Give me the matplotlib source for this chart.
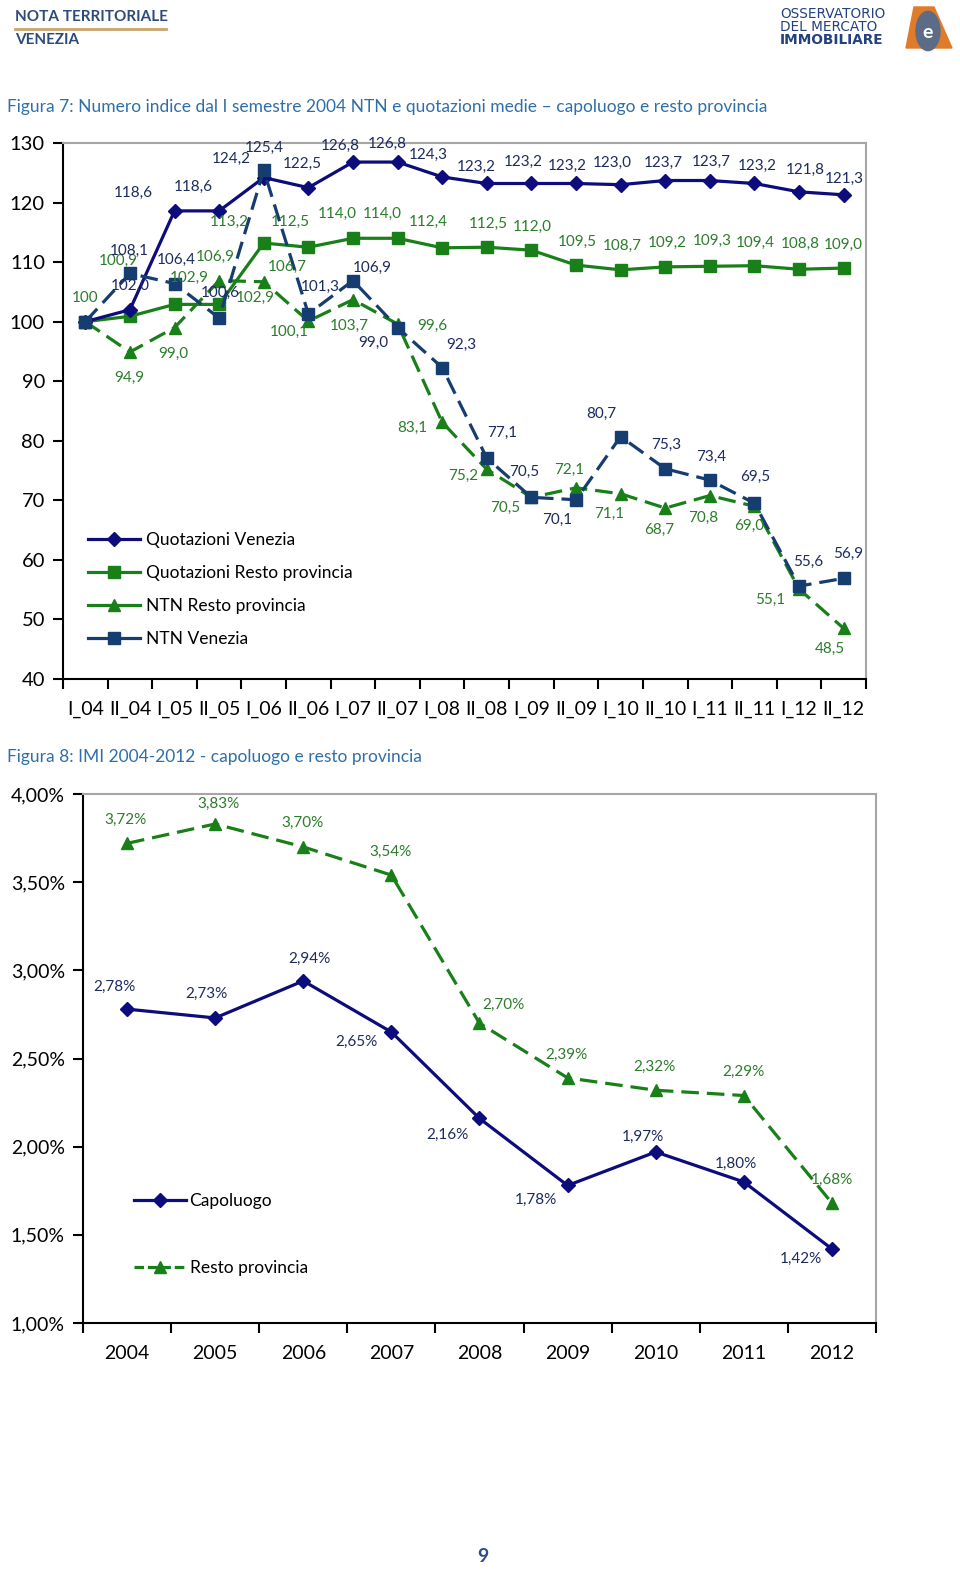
import matplotlib
matplotlib.use("Agg")
import matplotlib.pyplot as plt
from matplotlib.lines import Line2D
from matplotlib.patches import Polygon, Circle
import numpy as np

plt.rcParams['font.family'] = ['Lato', 'DejaVu Sans']

# ---------------- data ----------------
semesters = ["I_04", "II_04", "I_05", "II_05", "I_06", "II_06", "I_07", "II_07", "I_08",
             "II_08", "I_09", "II_09", "I_10", "II_10", "I_11", "II_11", "I_12", "II_12"]
quot_venezia = [100, 102.0, 118.6, 118.6, 124.2, 122.5, 126.8, 126.8, 124.3,
                123.2, 123.2, 123.2, 123.0, 123.7, 123.7, 123.2, 121.8, 121.3]
quot_resto = [100, 100.9, 102.9, 102.9, 113.2, 112.5, 114.0, 114.0, 112.4,
              112.5, 112.0, 109.5, 108.7, 109.2, 109.3, 109.4, 108.8, 109.0]
ntn_resto = [100, 94.9, 99.0, 106.9, 106.7, 100.1, 103.7, 99.6, 83.1,
             75.2, 70.5, 72.1, 71.1, 68.7, 70.8, 69.0, 55.1, 48.5]
ntn_venezia = [100, 108.1, 106.4, 100.6, 125.4, 101.3, 106.9, 99.0, 92.3,
               77.1, 70.5, 70.1, 80.7, 75.3, 73.4, 69.5, 55.6, 56.9]
y1_ticks = [40, 50, 60, 70, 80, 90, 100, 110, 120, 130]

years = ["2004", "2005", "2006", "2007", "2008", "2009", "2010", "2011", "2012"]
imi_capoluogo = [2.78, 2.73, 2.94, 2.65, 2.16, 1.78, 1.97, 1.80, 1.42]
imi_resto = [3.72, 3.83, 3.70, 3.54, 2.70, 2.39, 2.32, 2.29, 1.68]
y2_ticks = [1.00, 1.50, 2.00, 2.50, 3.00, 3.50, 4.00]

# ---------------- styles ----------------
NAVY = "#0C0C7C"
SLATE = "#163D70"
GREEN = "#198019"
NAVY_TXT = "#1D2B5E"
GREEN_TXT = "#2B7D2B"
TITLE_C = "#2F6FA8"
HEAD_C = "#2C4B7B"
GRAY = "#A6A6A6"

W, H = 960, 1569
fig = plt.figure(figsize=(W / 100, H / 100), dpi=100)

def fx(px):
    return px / W

def fy(py):
    return 1 - py / H

# ---------------- header ----------------
fig.text(fx(15), fy(17), "NOTA TERRITORIALE", fontsize=11, fontweight='bold',
         color=HEAD_C, va='center', ha='left')
fig.add_artist(Line2D([fx(15), fx(166)], [fy(29), fy(29)], color="#C9A46A", lw=2))
fig.text(fx(15), fy(40), "VENEZIA", fontsize=11, fontweight='bold',
         color=HEAD_C, va='center', ha='left')

logo_fam = ['Liberation Sans Narrow', 'DejaVu Sans']
for txt, yy, wgt in [("OSSERVATORIO", 14, 'normal'), ("DEL MERCATO", 27, 'normal'),
                     ("IMMOBILIARE", 40, 'bold')]:
    fig.text(fx(780), fy(yy), txt, fontsize=9.8, fontweight=wgt,
             family=logo_fam, color="#23407F", va='center', ha='left')
fig.add_artist(Polygon([[fx(914), fy(7)], [fx(934), fy(7)], [fx(952), fy(48)], [fx(906), fy(48)]],
                       closed=True, transform=fig.transFigure, color="#E07B2A"))
fig.add_artist(Circle((fx(928), fy(31)), 0.0125, transform=fig.transFigure,
                      color="#5C6C86"))
fig.text(fx(928), fy(32), "e", fontsize=14, fontweight='bold', color="white",
         ha='center', va='center')

# ---------------- chart 1 ----------------
fig.text(fx(7), fy(107), "Figura 7: Numero indice dal I semestre 2004 NTN e quotazioni medie \u2013 capoluogo e resto provincia",
         fontsize=12.5, color=TITLE_C, va='center', ha='left')

ax1 = fig.add_axes([fx(63), fy(679), fx(866) - fx(63), fy(143) - fy(679)])
x1 = np.arange(len(semesters))
dash = (5.5, 2.5)
ax1.plot(x1, quot_venezia, color=NAVY, lw=2.3, marker='D', ms=7, zorder=4)
ax1.plot(x1, quot_resto, color=GREEN, lw=2.3, marker='s', ms=8, zorder=3)
ax1.plot(x1, ntn_resto, color=GREEN, lw=2.3, marker='^', ms=9, dashes=dash, zorder=3)
ax1.plot(x1, ntn_venezia, color=SLATE, lw=2.3, marker='s', ms=8, dashes=dash, zorder=5)

ax1.set_xlim(-0.5, len(semesters) - 0.5)
ax1.set_ylim(40, 130)
ax1.set_yticks(y1_ticks)
ax1.set_yticklabels([str(v) for v in y1_ticks])
ax1.set_xticks(x1)
ax1.set_xticklabels(semesters)
ax1.set_xticks(np.arange(-0.5, len(semesters), 1), minor=True)
ax1.tick_params(axis='x', which='major', length=0, labelsize=14, pad=16)
ax1.tick_params(axis='x', which='minor', length=7, width=1.5, direction='out')
ax1.tick_params(axis='y', length=7, width=1.5, direction='out', labelsize=14.5, pad=6)
for s in ['left', 'bottom']:
    ax1.spines[s].set_color('black')
    ax1.spines[s].set_linewidth(1.5)
for s in ['top', 'right']:
    ax1.spines[s].set_color(GRAY)
    ax1.spines[s].set_linewidth(1.5)

def fmt(v, pct=False):
    if pct:
        return ("%.2f" % v).replace('.', ',') + "%"
    if v == 100:
        return "100"
    return ("%.1f" % v).replace('.', ',')

off_qv = [None, (0, -24), (-41, -18), (-26, -24), (-32, -19), (-6, -24), (-13, -16), (-10, -18),
          (-14, -22), (-11, -17), (-8, -22), (-9, -18), (-8, -22), (-2, -18), (1, -19), (3, -18),
          (6, -22), (1, -16)]
off_qr = [(0, -24), (-12, -55), (15, -27), (36, -7), (-34, -21), (-18, -25), (-16, -24), (-15, -24),
          (-14, -26), (1, -23), (1, -23), (1, -23), (2, -24), (2, -24), (2, -25), (1, -23),
          (1, -25), (0, -23)]
off_nr = [None, (-1, 26), (-1, 26), (-4, -24), (24, -15), (-19, 11), (-4, 26), (35, 2),
          (-30, 6), (-24, 7), (-26, 11), (-7, -18), (-11, 20), (-6, 22), (-7, 22), (-5, 20),
          (-29, 11), (-14, 21)]
off_nv = [None, (-1, -23), (2, -24), (1, -25), (1, -23), (12, -27), (19, -13), (-24, 15),
          (19, -23), (15, -25), (-7, -25), (-19, 20), (-19, -23), (1, -24), (1, -23), (1, -26),
          (9, -24), (4, -24)]

def label_series(ax, xs, ys, offs, color, pct=False, fs=11):
    for xi, yi, o in zip(xs, ys, offs):
        if o is None:
            continue
        ax.annotate(fmt(yi, pct), (xi, yi), xytext=(o[0], -o[1]), textcoords='offset pixels',
                    ha='center', va='center', fontsize=fs, color=color, zorder=6,
                    annotation_clip=False)

label_series(ax1, x1, quot_venezia, off_qv, NAVY_TXT)
label_series(ax1, x1, quot_resto, off_qr, GREEN_TXT)
label_series(ax1, x1, ntn_resto, off_nr, GREEN_TXT)
label_series(ax1, x1, ntn_venezia, off_nv, NAVY_TXT)

h1 = [Line2D([], [], color=NAVY, lw=2.3, marker='D', ms=7),
      Line2D([], [], color=GREEN, lw=2.3, marker='s', ms=8),
      Line2D([], [], color=GREEN, lw=2.3, marker='^', ms=9),
      Line2D([], [], color=SLATE, lw=2.3, marker='s', ms=8)]
l1 = ["Quotazioni Venezia", "Quotazioni Resto provincia", "NTN Resto provincia", "NTN Venezia"]
fig.legend(h1, l1, loc='upper left',
           bbox_to_anchor=(fx(88), fy(532)), bbox_transform=fig.transFigure,
           frameon=False, fontsize=12.5, handlelength=3.0, handletextpad=0.35,
           labelspacing=0.98, borderpad=0, borderaxespad=0)

# ---------------- chart 2 ----------------
fig.text(fx(7), fy(757), "Figura 8: IMI 2004-2012 - capoluogo e resto provincia",
         fontsize=12.5, color=TITLE_C, va='center', ha='left')

ax2 = fig.add_axes([fx(83), fy(1323), fx(876) - fx(83), fy(794) - fy(1323)])
x2 = np.arange(len(years))
ax2.plot(x2, imi_capoluogo, color=NAVY, lw=2.3, marker='D', ms=7, zorder=4)
ax2.plot(x2, imi_resto, color=GREEN, lw=2.3, marker='^', ms=9, dashes=dash, zorder=3)
ax2.set_xlim(-0.5, len(years) - 0.5)
ax2.set_ylim(1.0, 4.0)
ax2.set_yticks(y2_ticks)
ax2.set_yticklabels([fmt(v, True) for v in y2_ticks])
ax2.set_xticks(x2)
ax2.set_xticklabels(years)
ax2.set_xticks(np.arange(-0.5, len(years), 1), minor=True)
ax2.tick_params(axis='x', which='major', length=0, labelsize=14, pad=16)
ax2.tick_params(axis='x', which='minor', length=7, width=1.5, direction='out')
ax2.tick_params(axis='y', length=7, width=1.5, direction='out', labelsize=14, pad=6)
for s in ['left', 'bottom']:
    ax2.spines[s].set_color('black')
    ax2.spines[s].set_linewidth(1.5)
for s in ['top', 'right']:
    ax2.spines[s].set_color(GRAY)
    ax2.spines[s].set_linewidth(1.5)

off_cap = [(-13, -22), (-9, -24), (6, -22), (-35, 10), (-32, 16), (-32, 14), (-13, -15), (-8, -18), (-31, 10)]
off_res = [(-2, -23), (3, -20), (-1, -24), (-1, -23), (24, -18), (-1, -23), (-1, -23), (0, -24), (0, -23)]
label_series(ax2, x2, imi_capoluogo, off_cap, NAVY_TXT, pct=True)
label_series(ax2, x2, imi_resto, off_res, GREEN_TXT, pct=True)

h2 = [Line2D([], [], color=NAVY, lw=2.3, marker='D', ms=7),
      Line2D([], [], color=GREEN, lw=2.3, marker='^', ms=9, dashes=(3, 1.2))]
l2 = ["Capoluogo", "Resto provincia"]
fig.legend(h2, l2, loc='upper left',
           bbox_to_anchor=(fx(134), fy(1193)), bbox_transform=fig.transFigure,
           frameon=False, fontsize=12.5, handlelength=3.0, handletextpad=0.2,
           labelspacing=2.95, borderpad=0, borderaxespad=0)

# ---------------- page number ----------------
fig.text(fx(483), fy(1556), "9", fontsize=14, fontweight='bold', color="#2C4B8B",
         ha='center', va='center')

fig.savefig("out.png", dpi=100)
